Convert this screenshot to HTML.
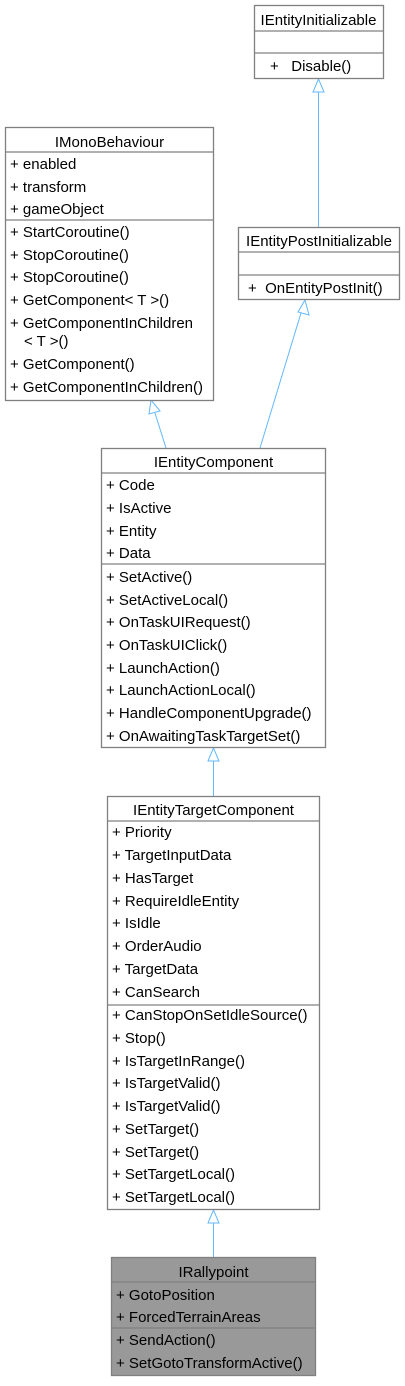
<!DOCTYPE html>
<html><head><meta charset="utf-8"><style>
html,body{margin:0;padding:0;background:#fff;}
svg text{font-family:"Liberation Sans",Arial,sans-serif;font-size:15px;fill:#000;}
</style></head><body>
<svg width="405" height="1381" viewBox="0 0 405 1381" xmlns="http://www.w3.org/2000/svg">
<g fill="none" stroke="#63b8ff" stroke-width="1">
<line x1="318.5" y1="92" x2="318.5" y2="227"/>
<polygon points="318.5,79 313,92 324,92" fill="#fff"/>
<line x1="301" y1="313" x2="260" y2="448"/>
<polygon points="305,300 298,312 309,315" fill="#fff"/>
<line x1="155" y1="413" x2="166" y2="448"/>
<polygon points="151,400 149,414 160,411" fill="#fff"/>
<line x1="213.5" y1="761" x2="213.5" y2="796"/>
<polygon points="213.5,748 208,761 219,761" fill="#fff"/>
<line x1="213.5" y1="1223" x2="213.5" y2="1257"/>
<polygon points="213.5,1210 208,1223 219,1223" fill="#fff"/>
</g>
<g stroke="#808080" stroke-width="1.3" fill="#fff">
<rect x="254.5" y="5.5" width="129" height="73"/>
<line x1="254.5" y1="31" x2="383.5" y2="31"/><line x1="254.5" y1="53" x2="383.5" y2="53"/>
<rect x="5.5" y="127.5" width="208" height="273"/>
<line x1="5.5" y1="152" x2="213.5" y2="152"/><line x1="5.5" y1="220" x2="213.5" y2="220"/>
<rect x="238.5" y="227.5" width="161" height="72"/>
<line x1="238.5" y1="252" x2="399.5" y2="252"/><line x1="238.5" y1="275" x2="399.5" y2="275"/>
<rect x="101.5" y="448.5" width="224" height="299"/>
<line x1="101.5" y1="473" x2="325.5" y2="473"/><line x1="101.5" y1="564" x2="325.5" y2="564"/>
<rect x="107.5" y="796.5" width="212" height="413"/>
<line x1="107.5" y1="821" x2="319.5" y2="821"/><line x1="107.5" y1="1005" x2="319.5" y2="1005"/>
<rect x="111.5" y="1257.5" width="204" height="118" fill="#999"/>
<line x1="111.5" y1="1282" x2="315.5" y2="1282"/><line x1="111.5" y1="1328" x2="315.5" y2="1328"/>
</g>
<text x="318.5" y="25" text-anchor="middle">IEntityInitializable</text>
<text x="270" y="71">+ &#160;&#160;Disable()</text>
<text x="109.5" y="147" text-anchor="middle">IMonoBehaviour</text>
<g>
<text x="10" y="169">+ enabled</text>
<text x="10" y="192">+ transform</text>
<text x="10" y="214">+ gameObject</text>
<text x="10" y="237">+ StartCoroutine()</text>
<text x="10" y="260">+ StopCoroutine()</text>
<text x="10" y="282">+ StopCoroutine()</text>
<text x="10" y="305">+ GetComponent&lt; T &gt;()</text>
<text x="10" y="328">+ GetComponentInChildren</text>
<text x="24" y="346">&lt; T &gt;()</text>
<text x="10" y="369">+ GetComponent()</text>
<text x="10" y="392">+ GetComponentInChildren()</text>
</g>
<text x="319" y="246" text-anchor="middle">IEntityPostInitializable</text>
<text x="248" y="293">+ &#160;OnEntityPostInit()</text>
<text x="213.5" y="467" text-anchor="middle">IEntityComponent</text>
<g>
<text x="106" y="490">+ Code</text>
<text x="106" y="513">+ IsActive</text>
<text x="106" y="536">+ Entity</text>
<text x="106" y="558">+ Data</text>
<text x="106" y="582">+ SetActive()</text>
<text x="106" y="605">+ SetActiveLocal()</text>
<text x="106" y="627">+ OnTaskUIRequest()</text>
<text x="106" y="650">+ OnTaskUIClick()</text>
<text x="106" y="673">+ LaunchAction()</text>
<text x="106" y="695">+ LaunchActionLocal()</text>
<text x="106" y="718">+ HandleComponentUpgrade()</text>
<text x="106" y="741">+ OnAwaitingTaskTargetSet()</text>
</g>
<text x="213.5" y="815" text-anchor="middle">IEntityTargetComponent</text>
<g>
<text x="112" y="837">+ Priority</text>
<text x="112" y="860">+ TargetInputData</text>
<text x="112" y="883">+ HasTarget</text>
<text x="112" y="906">+ RequireIdleEntity</text>
<text x="112" y="928">+ IsIdle</text>
<text x="112" y="951">+ OrderAudio</text>
<text x="112" y="974">+ TargetData</text>
<text x="112" y="997">+ CanSearch</text>
<text x="112" y="1020">+ CanStopOnSetIdleSource()</text>
<text x="112" y="1043">+ Stop()</text>
<text x="112" y="1066">+ IsTargetInRange()</text>
<text x="112" y="1088">+ IsTargetValid()</text>
<text x="112" y="1111">+ IsTargetValid()</text>
<text x="112" y="1134">+ SetTarget()</text>
<text x="112" y="1157">+ SetTarget()</text>
<text x="112" y="1179">+ SetTargetLocal()</text>
<text x="112" y="1202">+ SetTargetLocal()</text>
</g>
<text x="213.5" y="1277" text-anchor="middle">IRallypoint</text>
<text x="116" y="1300">+ GotoPosition</text>
<text x="116" y="1322">+ ForcedTerrainAreas</text>
<text x="116" y="1345">+ SendAction()</text>
<text x="116" y="1368">+ SetGotoTransformActive()</text>
</svg>
</body></html>
